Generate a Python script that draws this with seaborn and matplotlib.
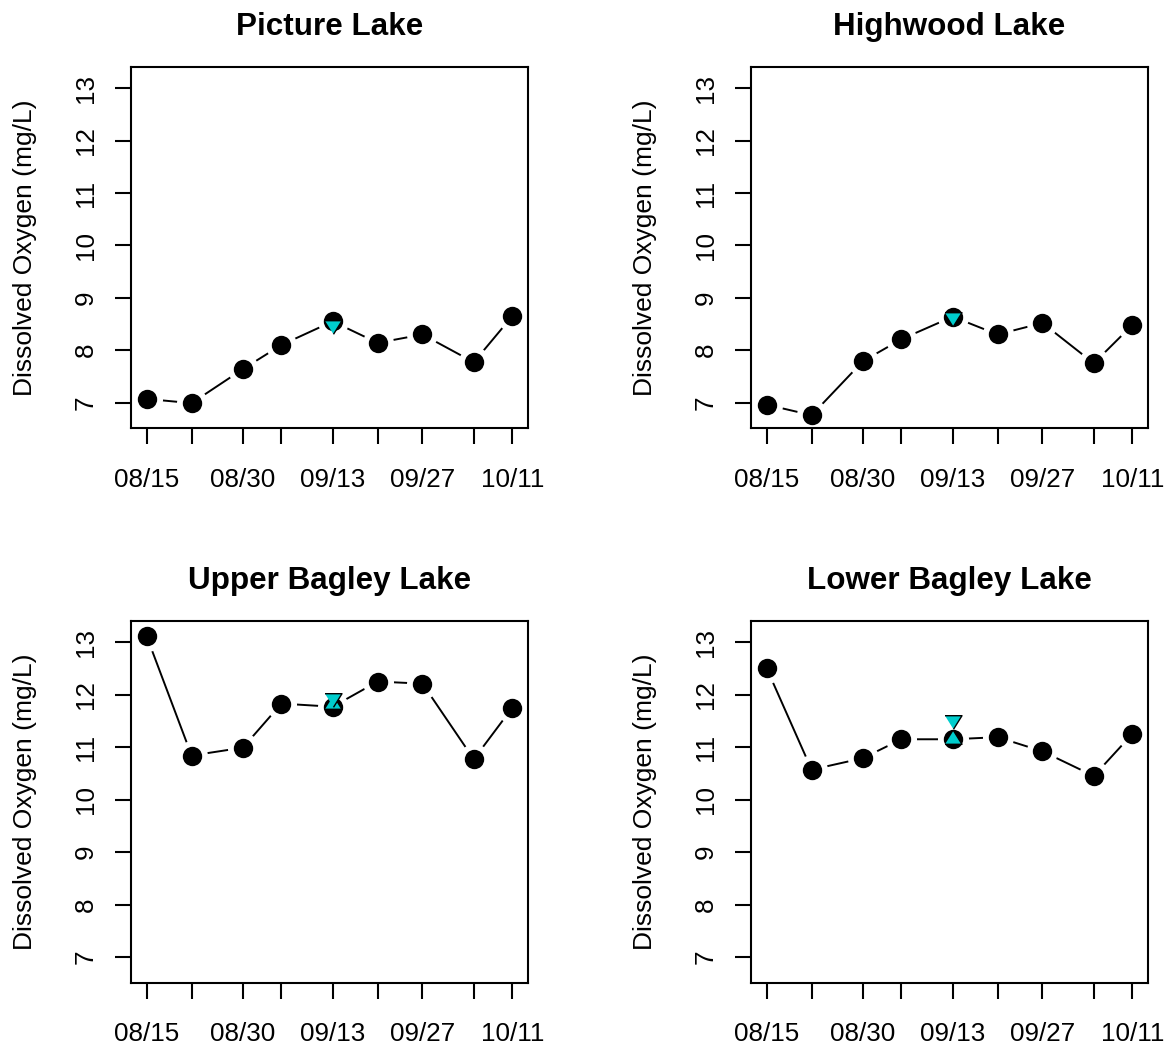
import matplotlib
matplotlib.use("Agg")
import matplotlib.pyplot as plt
import seaborn as sns
import pandas as pd

# ---- data ----
dates = ["08/15", "08/22", "08/30", "09/05", "09/13", "09/20", "09/27", "10/05", "10/11"]
tick_labels = ["08/15", "", "08/30", "", "09/13", "", "09/27", "", "10/11"]
lakes = ["Picture Lake", "Highwood Lake", "Upper Bagley Lake", "Lower Bagley Lake"]

picture_do = [7.07, 6.99, 7.64, 8.10, 8.55, 8.14, 8.30, 7.77, 8.65]
highwood_do = [6.96, 6.76, 7.79, 8.21, 8.64, 8.30, 8.52, 7.75, 8.48]
upper_bagley_do = [13.11, 10.84, 10.99, 11.83, 11.77, 12.25, 12.21, 10.77, 11.75]
lower_bagley_do = [12.50, 10.57, 10.79, 11.15, 11.15, 11.19, 10.92, 10.45, 11.25]

extra_date = "09/13"
up_tri_do = [None, None, 11.86, 11.19]
down_tri_do = [8.45, 8.60, 11.89, 11.47]

y_ticks = [7, 8, 9, 10, 11, 12, 13]
y_limits = (6.51, 13.41)

series = [picture_do, highwood_do, upper_bagley_do, lower_bagley_do]

# ---- style ----
sns.set_style("ticks")
plt.rcParams["font.family"] = ["Liberation Sans", "DejaVu Sans"]
plt.rcParams["text.color"] = "black"
plt.rcParams["axes.labelcolor"] = "black"
plt.rcParams["xtick.color"] = "black"
plt.rcParams["ytick.color"] = "black"

YEAR = 2019


def to_dt(s):
    return pd.to_datetime(f"{YEAR}/{s}", format="%Y/%m/%d")


xdates = [to_dt(d) for d in dates]
xextra = to_dt(extra_date)

W, H = 1168, 1049
fig = plt.figure(figsize=(W / 100, H / 100), dpi=100)

boxes = [
    (130.7, 66.7, 528.3, 428.3),
    (750.7, 66.7, 1148.3, 428.3),
    (130.7, 620.7, 528.3, 982.7),
    (750.7, 620.7, 1148.3, 982.7),
]

up_marker = [(-1, -0.8), (1, -0.8), (0, 0.8)]
down_marker = [(-1, 0.8), (1, 0.8), (0, -0.8)]
tri_color = "#00CDCD"

for i, (name, vals) in enumerate(zip(lakes, series)):
    l, t, r, b = boxes[i]
    ax = fig.add_axes([l / W, 1 - b / H, (r - l) / W, (b - t) / H])
    df = pd.DataFrame({"date": xdates, "do": vals})

    sns.lineplot(data=df, x="date", y="do", ax=ax, color="black", linewidth=1.4,
                 estimator=None, sort=False, zorder=1)
    sns.scatterplot(data=df, x="date", y="do", ax=ax, s=500, color="white",
                    linewidth=0, zorder=2)
    sns.scatterplot(data=df, x="date", y="do", ax=ax, s=195, color="black",
                    linewidth=0, zorder=3)

    if up_tri_do[i] is not None:
        dfu = pd.DataFrame({"date": [xextra], "do": [up_tri_do[i]]})
        sns.scatterplot(data=dfu, x="date", y="do", ax=ax, s=150, marker=up_marker,
                        color=tri_color, edgecolor="black", linewidth=1.0, zorder=4)
    if down_tri_do[i] is not None:
        dfd = pd.DataFrame({"date": [xextra], "do": [down_tri_do[i]]})
        sns.scatterplot(data=dfd, x="date", y="do", ax=ax, s=150, marker=down_marker,
                        color=tri_color, edgecolor="black", linewidth=1.0, zorder=5)

    ax.set_xlim(xdates[0] - pd.Timedelta(days=2.5), xdates[-1] + pd.Timedelta(days=2.5))
    ax.set_ylim(*y_limits)
    ax.set_xticks(xdates)
    ax.set_xticklabels(tick_labels)
    ax.set_yticks(y_ticks)
    ax.set_yticklabels([str(v) for v in y_ticks])

    ax.set_title(name, fontsize=22.6, fontweight="bold", pad=22.5, color="black")
    ax.set_xlabel("")
    ax.set_ylabel("Dissolved Oxygen (mg/L)", fontsize=19, color="black")
    ax.yaxis.set_label_coords(-0.235, 0.5)

    ax.tick_params(axis="both", length=11.5, width=1.5, labelsize=18.7,
                   direction="out", color="black", labelcolor="black")
    ax.tick_params(axis="x", pad=17)
    ax.tick_params(axis="y", pad=12, labelrotation=90)
    plt.setp(ax.get_yticklabels(), va="center")

    ax.grid(False)
    for sp in ax.spines.values():
        sp.set_visible(True)
        sp.set_linewidth(1.5)
        sp.set_color("black")

fig.savefig("out.png", dpi=100)
